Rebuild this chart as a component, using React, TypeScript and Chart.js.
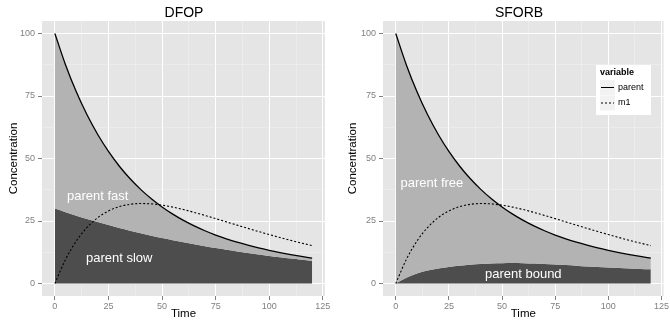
import React, { useEffect, useRef } from "react";
import { Chart, registerables } from "chart.js";

Chart.register(...registerables);

// ---- data ----
const times = [0, 5, 10, 15, 20, 25, 30, 35, 40, 45, 50, 55, 60, 65, 70, 75, 80, 85, 90, 95, 100, 105, 110, 115, 120];

const dfopParent = [100, 87.42, 76.66, 67.47, 59.6, 52.83, 47.01, 41.99, 37.64, 33.88, 30.61, 27.74, 25.24, 23.04, 21.11, 19.39, 17.87, 16.51, 15.31, 14.21, 13.24, 12.35, 11.54, 10.81, 10.14];
const dfopSlow = [30, 28.54, 27.14, 25.82, 24.56, 23.36, 22.22, 21.14, 20.11, 19.13, 18.2, 17.31, 16.46, 15.66, 14.9, 14.17, 13.48, 12.82, 12.2, 11.6, 11.04, 10.5, 9.99, 9.5, 9.04];
const dfopM1 = [0, 9.66, 16.99, 22.44, 26.34, 29.03, 30.74, 31.67, 31.99, 31.84, 31.33, 30.55, 29.57, 28.44, 27.23, 25.95, 24.64, 23.34, 22.06, 20.79, 19.57, 18.39, 17.26, 16.18, 15.16];

const sforbParent = [100, 87.42, 76.66, 67.47, 59.6, 52.83, 47.01, 41.99, 37.64, 33.88, 30.61, 27.74, 25.24, 23.04, 21.11, 19.39, 17.87, 16.51, 15.31, 14.21, 13.24, 12.35, 11.54, 10.81, 10.14];
const sforbBound = [0, 2.3, 4.0, 5.2, 6.0, 6.6, 7.1, 7.5, 7.8, 8.0, 8.1, 8.2, 8.15, 8.0, 7.8, 7.6, 7.4, 7.1, 6.8, 6.6, 6.4, 6.2, 6.0, 5.85, 5.7];
const sforbM1 = [0, 9.66, 16.99, 22.44, 26.34, 29.03, 30.74, 31.67, 31.99, 31.84, 31.33, 30.55, 29.57, 28.44, 27.23, 25.95, 24.64, 23.34, 22.06, 20.79, 19.57, 18.39, 17.26, 16.18, 15.16];

const xMajorTicks = [0, 25, 50, 75, 100, 125];
const xMinorTicks = [12.5, 37.5, 62.5, 87.5, 112.5];
const yMajorTicks = [0, 25, 50, 75, 100];
const yMinorTicks = [12.5, 37.5, 62.5, 87.5];

const dfopNotes = [
  { text: "parent fast", x: 20, y: 35 },
  { text: "parent slow", x: 30, y: 10 },
];
const sforbNotes = [
  { text: "parent free", x: 17, y: 40 },
  { text: "parent bound", x: 60, y: 3.8 },
];

const legendTitle = "variable";
const legendItems = [
  { label: "parent", dash: [] as number[] },
  { label: "m1", dash: [2, 2] },
];

const FONT = '"Liberation Sans", Arial, Helvetica, sans-serif';

type Note = { text: string; x: number; y: number };

type PanelProps = {
  left: number;
  title: string;
  parent: number[];
  lower: number[];
  m1: number[];
  notes: Note[];
  yAxisWidth: number;
  padRight: number;
  yTitlePad: number;
  withLegend: boolean;
};

function Panel(props: PanelProps) {
  const ref = useRef<HTMLCanvasElement>(null);
  useEffect(() => {
    const { title, parent, lower, m1, notes, yAxisWidth, padRight, yTitlePad, withLegend } = props;
    const pts = (vals: number[]) => times.map((t, i) => ({ x: t, y: vals[i] }));

    const bgPlugin = {
      id: "panelBg",
      beforeDraw(c: any) {
        const { ctx, chartArea: a } = c;
        ctx.save();
        ctx.fillStyle = "#e5e5e5";
        ctx.fillRect(a.left, a.top, a.right - a.left, a.bottom - a.top);
        ctx.restore();
      },
    };

    const decoPlugin = {
      id: "panelDeco",
      afterDatasetsDraw(c: any) {
        const { ctx } = c;
        const xs = c.scales.x;
        const ys = c.scales.y;
        ctx.save();
        ctx.font = `13px ${FONT}`;
        ctx.fillStyle = "#ffffff";
        ctx.textAlign = "center";
        ctx.textBaseline = "middle";
        notes.forEach((n) => {
          ctx.fillText(n.text, xs.getPixelForValue(n.x), ys.getPixelForValue(n.y));
        });
        ctx.restore();
      },
      afterDraw(c: any) {
        const { ctx } = c;
        ctx.save();
        ctx.font = `14px ${FONT}`;
        ctx.fillStyle = "#000000";
        ctx.textAlign = "center";
        ctx.textBaseline = "middle";
        ctx.fillText(title, 184, 13);
        if (withLegend) {
          const bx = 596 - 335, by = 65, bw = 55, bh = 50;
          ctx.fillStyle = "#ffffff";
          ctx.fillRect(bx, by, bw, bh);
          ctx.font = `bold 9px ${FONT}`;
          ctx.fillStyle = "#000000";
          ctx.textAlign = "left";
          ctx.fillText(legendTitle, bx + 4, 73);
          legendItems.forEach((it, i) => {
            const ky = 80 + i * 15.5;
            ctx.fillStyle = "#f2f2f2";
            ctx.fillRect(bx + 4, ky, 15, 15);
            ctx.strokeStyle = "#000000";
            ctx.lineWidth = 1;
            ctx.setLineDash(it.dash);
            ctx.beginPath();
            ctx.moveTo(bx + 5, ky + 7.5);
            ctx.lineTo(bx + 18, ky + 7.5);
            ctx.stroke();
            ctx.setLineDash([]);
            ctx.font = `9px ${FONT}`;
            ctx.fillStyle = "#000000";
            ctx.fillText(it.label, bx + 22, ky + 7.5);
          });
        }
        ctx.restore();
      },
    };

    const gridColor = (ctx: any) => {
      const v = ctx.tick ? ctx.tick.value : 0;
      return v % 25 === 0 ? "#ffffff" : "#f2f2f2";
    };
    const gridWidth = (ctx: any) => {
      const v = ctx.tick ? ctx.tick.value : 0;
      return v % 25 === 0 ? 1 : 0.5;
    };
    const tickColor = (ctx: any) => {
      const v = ctx.tick ? ctx.tick.value : 0;
      return v % 25 === 0 ? "#7f7f7f" : "rgba(0,0,0,0)";
    };

    const chart = new Chart(ref.current as HTMLCanvasElement, {
      type: "line",
      data: {
        datasets: [
          {
            label: "parent",
            data: pts(parent),
            borderColor: "#000000",
            borderWidth: 1.3,
            backgroundColor: "#b3b3b3",
            fill: 2,
            pointRadius: 0,
            cubicInterpolationMode: "monotone",
          },
          {
            label: "m1",
            data: pts(m1),
            borderColor: "#000000",
            borderWidth: 1.1,
            borderDash: [2, 2],
            fill: false,
            pointRadius: 0,
            cubicInterpolationMode: "monotone",
          },
          {
            label: "lower",
            data: pts(lower),
            borderColor: "rgba(0,0,0,0)",
            borderWidth: 0,
            backgroundColor: "#4d4d4d",
            fill: "origin",
            pointRadius: 0,
            cubicInterpolationMode: "monotone",
          },
        ],
      },
      options: {
        animation: false,
        responsive: false,
        events: [],
        layout: { padding: { left: 0, top: 21, right: padRight, bottom: 0 } },
        plugins: {
          legend: { display: false },
          tooltip: { enabled: false },
          filler: { drawTime: "beforeDatasetsDraw" },
        },
        scales: {
          x: {
            type: "linear",
            min: -6,
            max: 126,
            afterBuildTicks: (s: any) => {
              s.ticks = [...xMajorTicks, ...xMinorTicks].sort((a, b) => a - b).map((v) => ({ value: v }));
            },
            afterFit: (s: any) => {
              s.height = 26;
            },
            ticks: {
              autoSkip: false,
              maxRotation: 0,
              padding: 1,
              color: "#7f7f7f",
              font: { size: 9, family: FONT },
              callback: (v: any) => (xMajorTicks.includes(Number(v)) ? String(v) : ""),
            },
            grid: {
              color: gridColor,
              lineWidth: gridWidth,
              tickColor: tickColor,
              tickLength: 4,
              tickWidth: 1,
            },
            border: { display: false },
            title: {
              display: true,
              text: "Time",
              color: "#000000",
              font: { size: 11.5, family: FONT },
              padding: { top: 0, bottom: 1 },
            },
          },
          y: {
            type: "linear",
            min: -5,
            max: 105,
            afterBuildTicks: (s: any) => {
              s.ticks = [...yMajorTicks, ...yMinorTicks].sort((a, b) => a - b).map((v) => ({ value: v }));
            },
            afterFit: (s: any) => {
              s.width = yAxisWidth;
            },
            ticks: {
              autoSkip: false,
              padding: 3,
              color: "#7f7f7f",
              font: { size: 9, family: FONT },
              callback: (v: any) => (yMajorTicks.includes(Number(v)) ? String(v) : ""),
            },
            grid: {
              color: gridColor,
              lineWidth: gridWidth,
              tickColor: tickColor,
              tickLength: 4,
              tickWidth: 1,
            },
            border: { display: false },
            title: {
              display: true,
              text: "Concentration",
              color: "#000000",
              font: { size: 11.5, family: FONT },
              padding: { top: yTitlePad, bottom: 0 },
            },
          },
        },
      } as any,
      plugins: [bgPlugin, decoPlugin],
    });
    return () => chart.destroy();
  }, []);
  return (
    <canvas
      ref={ref}
      width={335}
      height={322}
      style={{ position: "absolute", left: props.left, top: 0, width: 335, height: 322 }}
    />
  );
}

export default function App() {
  useEffect(() => {
    document.body.style.margin = "0";
  }, []);
  return (
    <div style={{ position: "relative", width: 670, height: 322, background: "#ffffff" }}>
      <Panel
        left={0}
        title="DFOP"
        parent={dfopParent}
        lower={dfopSlow}
        m1={dfopM1}
        notes={dfopNotes}
        yAxisWidth={42}
        padRight={10}
        yTitlePad={7}
        withLegend={false}
      />
      <Panel
        left={335}
        title="SFORB"
        parent={sforbParent}
        lower={sforbBound}
        m1={sforbM1}
        notes={sforbNotes}
        yAxisWidth={48}
        padRight={5}
        yTitlePad={11}
        withLegend={true}
      />
    </div>
  );
}
